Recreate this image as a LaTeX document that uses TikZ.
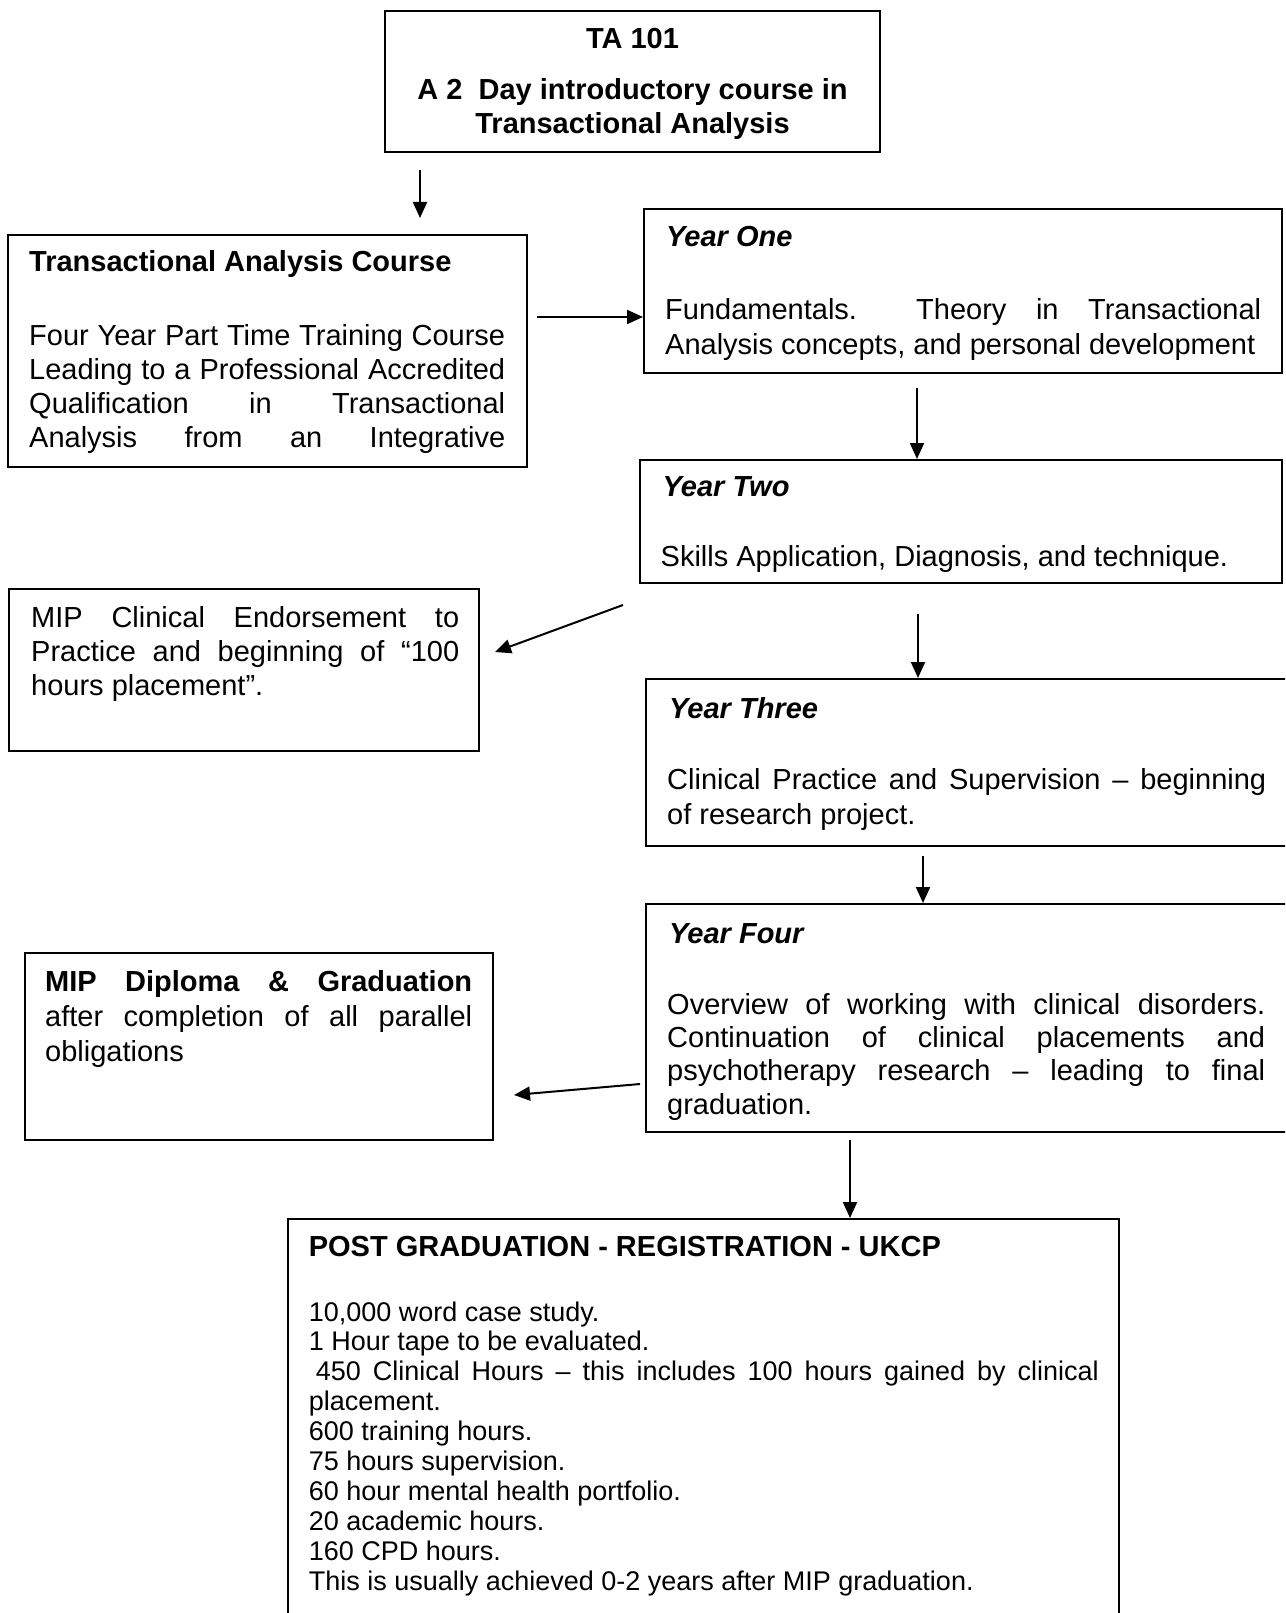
\documentclass[tikz,border=0pt]{standalone}
\usepackage{fontspec}
\setmainfont{Liberation Sans}
\usetikzlibrary{arrows.meta}
\newcommand\jl[2]{\makebox[#1][s]{\spaceskip=0pt\xspaceskip=0pt #2}}
\begin{document}
\begin{tikzpicture}[x=1pt,y=-1pt,
  box/.style={draw, line width=2pt, inner sep=0pt, rectangle},
  txt/.style={anchor=base west, inner sep=0pt, align=left, text width=700pt, font=\fontsize{29}{34.5}\selectfont,
    execute at begin node={\spaceskip=0pt\xspaceskip=0pt}},
  ctr/.style={anchor=base, inner sep=0pt, font=\fontsize{29}{34.5}\selectfont\bfseries},
  small/.style={anchor=base west, inner sep=0pt, align=left, text width=900pt, font=\fontsize{27}{29.9}\selectfont,
    execute at begin node={\spaceskip=0pt\xspaceskip=0pt}},
  arr/.style={line width=2pt, -{Triangle[length=16pt,width=14pt]}}]
\useasboundingbox (0,0) rectangle (1285,1613);
\clip (0,0) rectangle (1285,1613);
\fill[white] (0,0) rectangle (1285,1613);

% boxes
\node[box, minimum width=495pt, minimum height=141pt] (ta) at (632.5,81.5) {};
\node[box, minimum width=519pt, minimum height=232pt] (tac) at (267.5,351) {};
\node[box, minimum width=638pt, minimum height=164pt] (y1) at (963,291) {};
\node[box, minimum width=642pt, minimum height=123pt] (y2) at (961,521.5) {};
\node[box, minimum width=470pt, minimum height=162pt] (mip1) at (244,670) {};
\node[box, minimum width=648pt, minimum height=167pt] (y3) at (970,762.5) {};
\node[box, minimum width=648pt, minimum height=228pt] (y4) at (970,1018) {};
\node[box, minimum width=468pt, minimum height=187pt] (mip2) at (259,1046.5) {};
\node[box, minimum width=831pt, minimum height=421pt] (pg) at (703.5,1429.5) {};

% TA 101 text
\node[ctr] (t1) at (632.5,48.5) {TA 101};
\node[ctr] (t2) at (632.5,100) {A 2\ \ Day introductory course in};
\node[ctr] (t3) at (632.5,134) {Transactional Analysis};

% TA course
\node[txt, font=\fontsize{29}{34.5}\selectfont\bfseries] (t4) at (29,272) {Transactional Analysis Course};
\node[txt, font=\fontsize{29}{34}\selectfont] (t5) at (29,345.5)
 {\jl{476pt}{Four Year Part Time Training Course}\\
  \jl{476pt}{Leading to a Professional Accredited}\\
  \jl{476pt}{Qualification in Transactional}\\
  \jl{476pt}{Analysis from an Integrative}};

% Year One
\node[txt] (t6) at (666,247) {\textbf{\textit{Year One}}};
\node[txt, font=\fontsize{29}{35}\selectfont] (t7) at (665,319)
 {\jl{596pt}{Fundamentals.\ \ Theory in Transactional}\\
  Analysis concepts, and personal development};

% Year Two
\node[txt] (t8) at (662.5,496) {\textbf{\textit{Year Two}}};
\node[txt] (t9) at (660.5,566) {Skills Application, Diagnosis, and technique.};

% MIP clinical
\node[txt, font=\fontsize{29}{34}\selectfont] (t10) at (31,627.5)
 {\jl{428pt}{MIP Clinical Endorsement to}\\
  \jl{428pt}{Practice and beginning of “100}\\
  hours placement”.};

% Year Three
\node[txt] (t11) at (669,718) {\textbf{\textit{Year Three}}};
\node[txt, font=\fontsize{29}{35}\selectfont] (t12) at (667,789)
 {\jl{599pt}{Clinical Practice and Supervision – beginning}\\
  of research project.};

% Year Four
\node[txt] (t13) at (669,943) {\textbf{\textit{Year Four}}};
\node[txt, font=\fontsize{29}{33.2}\selectfont] (t14) at (667,1014.5)
 {\jl{598pt}{Overview of working with clinical disorders.}\\
  \jl{598pt}{Continuation of clinical placements and}\\
  \jl{598pt}{psychotherapy research – leading to final}\\
  graduation.};

% MIP diploma
\node[txt, font=\fontsize{29}{35}\selectfont] (t15) at (45,991)
 {\jl{427pt}{\textbf{MIP Diploma \& Graduation}}\\
  \jl{427pt}{after completion of all parallel}\\
  obligations};

% Post graduation
\node[txt, font=\fontsize{29}{34.5}\selectfont\bfseries] (t16) at (308.6,1256) {POST GRADUATION - REGISTRATION - UKCP};
\node[small] (t17) at (308.6,1321)
 {10,000 word case study.\\
  1 Hour tape to be evaluated.\\
  \jl{790pt}{\hspace*{7pt}450 Clinical Hours – this includes 100 hours gained by clinical}\\
  placement.\\
  600 training hours.\\
  75 hours supervision.\\
  60 hour mental health portfolio.\\
  20 academic hours.\\
  160 CPD hours.\\
  This is usually achieved 0-2 years after MIP graduation.};

% connector end points
\coordinate (a1s) at (420,170);  \coordinate (a1e) at (420,218);
\coordinate (a2s) at (537,317);  \coordinate (a2e) at (y1.west |- a2s);
\coordinate (a3s) at (917,388);  \coordinate (a3e) at (y2.north -| a3s);
\coordinate (a4s) at (623,605);  \coordinate (a4e) at (495,652);
\coordinate (a5s) at (918,614);  \coordinate (a5e) at (y3.north -| a5s);
\coordinate (a6s) at (923,856);  \coordinate (a6e) at (y4.north -| a6s);
\coordinate (a7s) at (640,1084); \coordinate (a7e) at (514,1095);
\coordinate (a8s) at (850,1140); \coordinate (a8e) at (pg.north -| a8s);

\draw[arr] (a1s) -- (a1e);
\draw[arr] (a2s) -- (a2e);
\draw[arr] (a3s) -- (a3e);
\draw[arr] (a4s) -- (a4e);
\draw[arr] (a5s) -- (a5e);
\draw[arr] (a6s) -- (a6e);
\draw[arr] (a7s) -- (a7e);
\draw[arr] (a8s) -- (a8e);
\end{tikzpicture}
\end{document}
